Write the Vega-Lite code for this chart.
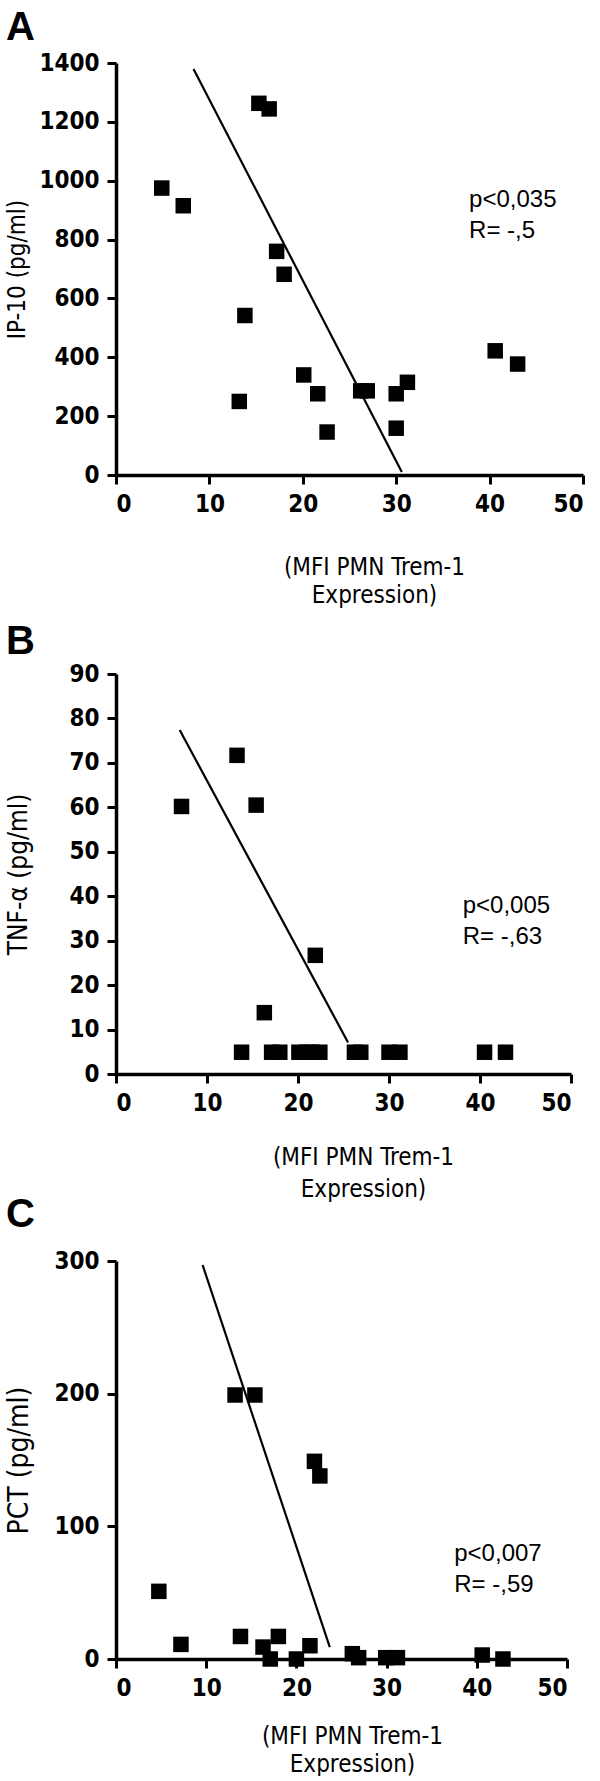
{
  "$schema": "https://vega.github.io/schema/vega-lite/v6.json",
  "background": "white",
  "padding": {"left": 5, "top": 8, "right": 8, "bottom": 0},
  "spacing": 15,
  "config": {
    "view": {"stroke": null},
    "font": "Liberation Sans",
    "concat": {"spacing": -6},
    "axis": {
      "grid": false,
      "domainColor": "black", "domainWidth": 3.5,
      "tickColor": "black", "tickWidth": 3, "tickSize": 9,
      "labelFont": "DejaVu Sans Condensed, Liberation Sans", "labelFontWeight": "bold", "labelFontSize": 24,
      "labelColor": "black", "labelPadding": 8, "format": "d",
      "titleColor": "black", "titleFontWeight": "normal", "titleFont": "DejaVu Sans Condensed, Liberation Sans"
    },
    "axisX": {"titleFontSize": 24, "titleLineHeight": 30, "titleAlign": "center", "titleBaseline": "top"},
    "title": {"anchor": "start", "frame": "bounds", "fontSize": 40, "fontWeight": "bold", "font": "Liberation Sans", "color": "black"}
  },
  "datasets": {
    "pts": [
      {"panel": "A", "x": 4.9, "y": 975}, {"panel": "A", "x": 7.2, "y": 915}, {"panel": "A", "x": 15.3, "y": 1263},
      {"panel": "A", "x": 16.4, "y": 1244}, {"panel": "A", "x": 17.2, "y": 760}, {"panel": "A", "x": 18.0, "y": 682},
      {"panel": "A", "x": 13.8, "y": 542}, {"panel": "A", "x": 13.2, "y": 250}, {"panel": "A", "x": 20.1, "y": 340},
      {"panel": "A", "x": 21.6, "y": 276}, {"panel": "A", "x": 22.6, "y": 146}, {"panel": "A", "x": 26.2, "y": 286},
      {"panel": "A", "x": 26.9, "y": 286}, {"panel": "A", "x": 30.0, "y": 276}, {"panel": "A", "x": 30.0, "y": 159},
      {"panel": "A", "x": 31.2, "y": 315}, {"panel": "A", "x": 40.6, "y": 422}, {"panel": "A", "x": 43.0, "y": 377},
      {"panel": "B", "x": 7.2, "y": 60.2}, {"panel": "B", "x": 13.3, "y": 71.7}, {"panel": "B", "x": 15.4, "y": 60.5},
      {"panel": "B", "x": 21.9, "y": 26.7}, {"panel": "B", "x": 16.3, "y": 13.8}, {"panel": "B", "x": 13.8, "y": 4.9},
      {"panel": "B", "x": 17.1, "y": 4.9}, {"panel": "B", "x": 18.0, "y": 4.9}, {"panel": "B", "x": 20.1, "y": 4.9},
      {"panel": "B", "x": 21.0, "y": 4.9}, {"panel": "B", "x": 21.6, "y": 4.9}, {"panel": "B", "x": 22.4, "y": 4.9},
      {"panel": "B", "x": 26.2, "y": 4.9}, {"panel": "B", "x": 26.9, "y": 4.9}, {"panel": "B", "x": 30.0, "y": 4.9},
      {"panel": "B", "x": 31.2, "y": 4.9}, {"panel": "B", "x": 40.5, "y": 4.9}, {"panel": "B", "x": 42.8, "y": 4.9},
      {"panel": "C", "x": 4.75, "y": 51}, {"panel": "C", "x": 7.2, "y": 11}, {"panel": "C", "x": 13.2, "y": 199},
      {"panel": "C", "x": 15.4, "y": 199}, {"panel": "C", "x": 22.0, "y": 149}, {"panel": "C", "x": 22.6, "y": 138},
      {"panel": "C", "x": 13.8, "y": 17}, {"panel": "C", "x": 16.3, "y": 9}, {"panel": "C", "x": 17.1, "y": 0},
      {"panel": "C", "x": 18.0, "y": 17}, {"panel": "C", "x": 20.0, "y": 0}, {"panel": "C", "x": 21.5, "y": 10},
      {"panel": "C", "x": 26.2, "y": 4}, {"panel": "C", "x": 26.9, "y": 1}, {"panel": "C", "x": 29.9, "y": 1},
      {"panel": "C", "x": 31.2, "y": 1}, {"panel": "C", "x": 40.6, "y": 3}, {"panel": "C", "x": 42.9, "y": 0}
    ],
    "fits": [
      {"panel": "A", "x": 8.3, "y": 1380}, {"panel": "A", "x": 30.6, "y": 10},
      {"panel": "B", "x": 7.0, "y": 77.4}, {"panel": "B", "x": 25.5, "y": 7.1},
      {"panel": "C", "x": 9.6, "y": 297}, {"panel": "C", "x": 23.7, "y": 9}
    ],
    "stats": [
      {"panel": "A", "label": "p<0,035\nR= -,5"},
      {"panel": "B", "label": "p<0,005\nR= -,63"},
      {"panel": "C", "label": "p<0,007\nR= -,59"}
    ]
  },
  "vconcat": [
    {
      "title": {"text": "A", "offset": 3},
      "width": 467, "height": 412,
      "layer": [
        {
          "data": {"name": "pts"}, "transform": [{"filter": "datum.panel === 'A'"}],
          "mark": {"type": "point", "shape": "square", "filled": true, "size": 240, "color": "black", "opacity": 1},
          "encoding": {
            "x": {"field": "x", "type": "quantitative", "scale": {"domain": [0, 50], "nice": false},
                  "axis": {"values": [0, 10, 20, 30, 40, 50], "title": ["(MFI PMN Trem-1", "Expression)"], "titleX": 258, "titlePadding": 39, "titleLineHeight": 28}},
            "y": {"field": "y", "type": "quantitative", "scale": {"domain": [0, 1400], "nice": false},
                  "axis": {"values": [0, 200, 400, 600, 800, 1000, 1200, 1400], "title": "IP-10 (pg/ml)", "titleFontSize": 24, "titlePadding": 9}}
          }
        },
        {
          "data": {"name": "fits"}, "transform": [{"filter": "datum.panel === 'A'"}],
          "mark": {"type": "line", "color": "black", "strokeWidth": 2.2},
          "encoding": {"x": {"field": "x", "type": "quantitative"}, "y": {"field": "y", "type": "quantitative"}}
        },
        {
          "data": {"name": "stats"}, "transform": [{"filter": "datum.panel === 'A'"}],
          "mark": {"type": "text", "align": "left", "baseline": "alphabetic", "lineBreak": "\n", "fontSize": 24, "lineHeight": 31, "font": "Liberation Sans", "color": "black"},
          "encoding": {"x": {"datum": 37.8, "type": "quantitative"}, "y": {"datum": 912, "type": "quantitative"}, "text": {"field": "label"}}
        }
      ]
    },
    {
      "vconcat": [
        {
          "title": {"text": "B", "offset": 0},
          "width": 455, "height": 400,
          "layer": [
            {
              "data": {"name": "pts"}, "transform": [{"filter": "datum.panel === 'B'"}],
              "mark": {"type": "point", "shape": "square", "filled": true, "size": 240, "color": "black", "opacity": 1},
              "encoding": {
                "x": {"field": "x", "type": "quantitative", "scale": {"domain": [0, 50], "nice": false},
                      "axis": {"values": [0, 10, 20, 30, 40, 50], "title": ["(MFI PMN Trem-1", "Expression)"], "titleX": 247, "titlePadding": 30, "titleLineHeight": 32}},
                "y": {"field": "y", "type": "quantitative", "scale": {"domain": [0, 90], "nice": false},
                      "axis": {"values": [0, 10, 20, 30, 40, 50, 60, 70, 80, 90], "title": "TNF-α (pg/ml)", "titleFontSize": 26, "titlePadding": 37}}
              }
            },
            {
              "data": {"name": "fits"}, "transform": [{"filter": "datum.panel === 'B'"}],
              "mark": {"type": "line", "color": "black", "strokeWidth": 2.2},
              "encoding": {"x": {"field": "x", "type": "quantitative"}, "y": {"field": "y", "type": "quantitative"}}
            },
            {
              "data": {"name": "stats"}, "transform": [{"filter": "datum.panel === 'B'"}],
              "mark": {"type": "text", "align": "left", "baseline": "alphabetic", "lineBreak": "\n", "fontSize": 24, "lineHeight": 31, "font": "Liberation Sans", "color": "black"},
              "encoding": {"x": {"datum": 38.1, "type": "quantitative"}, "y": {"datum": 36.3, "type": "quantitative"}, "text": {"field": "label"}}
            }
          ]
        },
        {
          "title": {"text": "C", "offset": 14},
          "width": 451, "height": 398,
          "layer": [
            {
              "data": {"name": "pts"}, "transform": [{"filter": "datum.panel === 'C'"}],
              "mark": {"type": "point", "shape": "square", "filled": true, "size": 240, "color": "black", "opacity": 1},
              "encoding": {
                "x": {"field": "x", "type": "quantitative", "scale": {"domain": [0, 50], "nice": false},
                      "axis": {"values": [0, 10, 20, 30, 40, 50], "title": ["(MFI PMN Trem-1", "Expression)"], "titleX": 236, "titlePadding": 24, "titleLineHeight": 28}},
                "y": {"field": "y", "type": "quantitative", "scale": {"domain": [0, 300], "nice": false},
                      "axis": {"values": [0, 100, 200, 300], "title": "PCT (pg/ml)", "titleFontSize": 28, "titlePadding": 20}}
              }
            },
            {
              "data": {"name": "fits"}, "transform": [{"filter": "datum.panel === 'C'"}],
              "mark": {"type": "line", "color": "black", "strokeWidth": 2.2},
              "encoding": {"x": {"field": "x", "type": "quantitative"}, "y": {"field": "y", "type": "quantitative"}}
            },
            {
              "data": {"name": "stats"}, "transform": [{"filter": "datum.panel === 'C'"}],
              "mark": {"type": "text", "align": "left", "baseline": "alphabetic", "lineBreak": "\n", "fontSize": 24, "lineHeight": 31, "font": "Liberation Sans", "color": "black"},
              "encoding": {"x": {"datum": 37.5, "type": "quantitative"}, "y": {"datum": 73.5, "type": "quantitative"}, "text": {"field": "label"}}
            }
          ]
        }
      ]
    }
  ]
}
